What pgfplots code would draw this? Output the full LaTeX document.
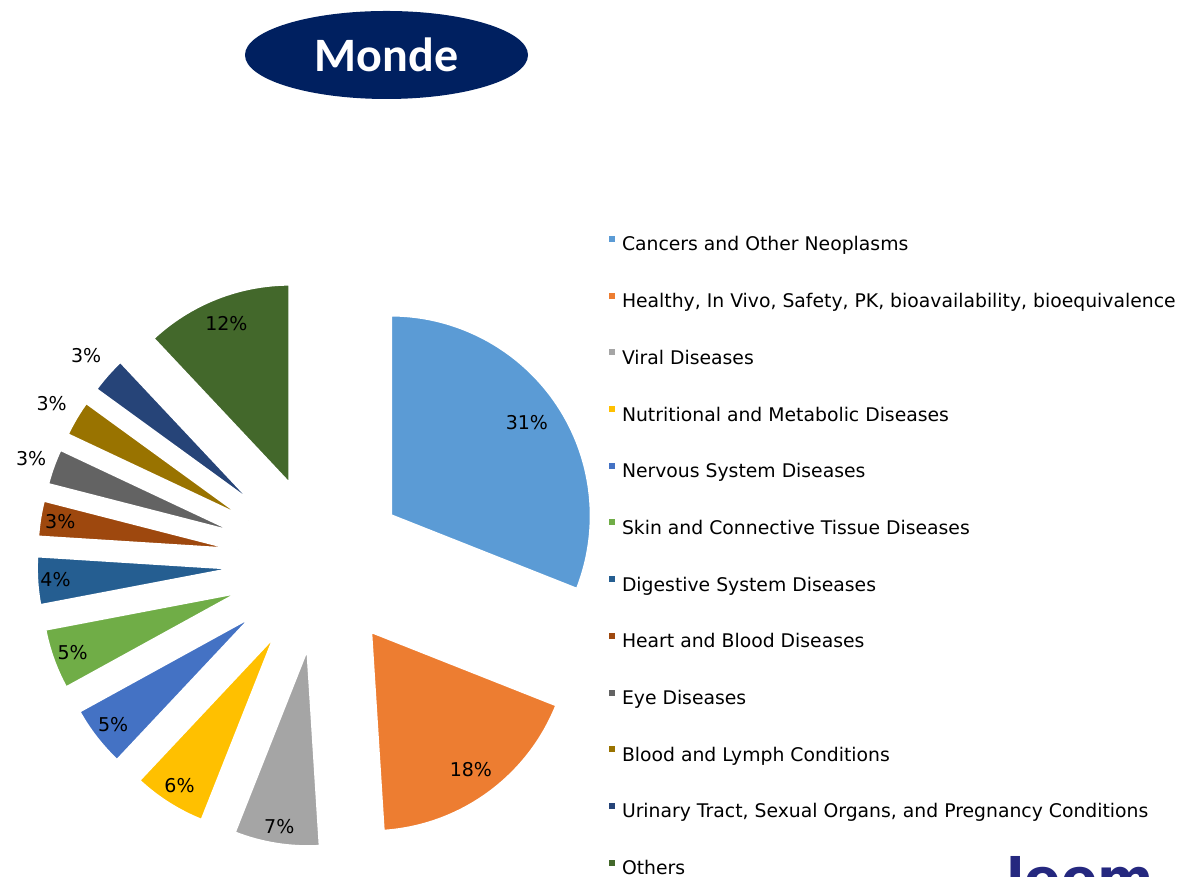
\documentclass[border=0pt]{standalone}
\usepackage{pgfplots}
\usepackage{pgfplotstable}
\pgfplotsset{compat=1.18}
\usetikzlibrary{shapes.geometric}
\usepackage{fontspec}
\setmainfont{DejaVu Sans}
\newfontfamily\titlefont{Carlito}

\definecolor{cCancer}{HTML}{5B9BD5}
\definecolor{cHealthy}{HTML}{ED7D31}
\definecolor{cViral}{HTML}{A5A5A5}
\definecolor{cNutri}{HTML}{FFC000}
\definecolor{cNerv}{HTML}{4472C4}
\definecolor{cSkin}{HTML}{70AD47}
\definecolor{cDigest}{HTML}{255E91}
\definecolor{cHeart}{HTML}{9E480E}
\definecolor{cEye}{HTML}{636363}
\definecolor{cBlood}{HTML}{997300}
\definecolor{cUrin}{HTML}{264478}
\definecolor{cOther}{HTML}{43682B}
\definecolor{navy}{HTML}{002060}
\definecolor{leemblue}{HTML}{25287F}

\newcommand\legfont{\fontsize{18.8}{22}\selectfont}
\newcommand\pctfont{\fontsize{19}{21}\selectfont}

% share (%), label distance from pie centre, colour, legend text
\pgfplotstableread[col sep=semicolon]{
share;lbl;col;name
31;249;cCancer;Cancers and Other Neoplasms
18;255;cHealthy;Healthy, In Vivo, Safety, PK, bioavailability, bioequivalence
7;267;cViral;Viral Diseases
6;264;cNutri;Nutritional and Metabolic Diseases
5;263;cNerv;Nervous System Diseases
5;264;cSkin;Skin and Connective Tissue Diseases
4;266;cDigest;Digestive System Diseases
3;264;cHeart;Heart and Blood Diseases
3;308;cEye;Eye Diseases
3;313;cBlood;Blood and Lymph Conditions
3;313;cUrin;Urinary Tract, Sexual Organs, and Pregnancy Conditions
12;257;cOther;Others
}\piedata

\def\cx{321}  % pie centre
\def\cy{314}
\def\ex{84}   % explosion
\def\rad{201} % radius

\begin{document}
\begin{tikzpicture}
\path[use as bounding box] (0,0) rectangle (1184pt,877pt);
\begin{axis}[
    at={(0,0)}, anchor=south west,
    x=1pt, y=1pt,
    xmin=0, xmax=1184, ymin=0, ymax=877,
    hide axis, clip=false,
    legend image code/.code={\fill[#1] (0pt,4pt) rectangle (6pt,10pt);},
    legend cell align=left,
    legend style={at={(axis cs:609,641)}, anchor=north west,
        draw=none, fill=none, inner sep=0pt, outer sep=0pt,
        font=\legfont, row sep=37.7pt,
        nodes={inner sep=0pt, text height=14pt, text depth=4pt},
        /tikz/every odd column/.append style={column sep=7pt}},
]
\def\cum{90}
\pgfplotsforeachungrouped \i in {0,...,11}{%
  \pgfplotstablegetelem{\i}{share}\of\piedata\let\sliceval\pgfplotsretval
  \pgfplotstablegetelem{\i}{lbl}\of\piedata\let\slicelbl\pgfplotsretval
  \pgfplotstablegetelem{\i}{col}\of\piedata\let\slicecol\pgfplotsretval
  \pgfplotstablegetelem{\i}{name}\of\piedata\let\slicename\pgfplotsretval
  \pgfmathsetmacro\angA{\cum}
  \pgfmathsetmacro\angB{\cum-3.6*\sliceval}
  \pgfmathsetmacro\angM{(\angA+\angB)/2}
  \pgfmathsetmacro\vx{\cx+\ex*cos(\angM)}
  \pgfmathsetmacro\vy{\cy+\ex*sin(\angM)}
  \pgfmathsetmacro\lx{\cx+\slicelbl*cos(\angM)}
  \pgfmathsetmacro\ly{\cy+\slicelbl*sin(\angM)}
  \edef\cmd{%
    \noexpand\fill[\slicecol, draw=white, line width=3.5pt, line join=miter]
      (axis cs:\vx,\vy) -- ++(\angA:\rad pt)
      arc[start angle=\angA, end angle=\angB, radius=\rad pt] -- cycle;
    \noexpand\node[font=\noexpand\pctfont, text=black, inner sep=0pt]
      at (axis cs:\lx,\ly) {\sliceval\noexpand\%};
    \noexpand\addlegendimage{fill=\slicecol, draw=none}
    \noexpand\addlegendentry{\slicename}
  }%
  \cmd
  \global\let\cum\angB
}
\node[ellipse, fill=navy, minimum width=283pt, minimum height=88pt, inner sep=0pt]
  at (axis cs:386.5,822) {\titlefont\bfseries\fontsize{48}{50}\selectfont\color{white}Monde};
\node[anchor=north west, inner sep=0pt, text=leemblue, font=\bfseries\fontsize{54}{60}\selectfont]
  at (axis cs:1006,21) {leem};
\end{axis}
\end{tikzpicture}
\end{document}
